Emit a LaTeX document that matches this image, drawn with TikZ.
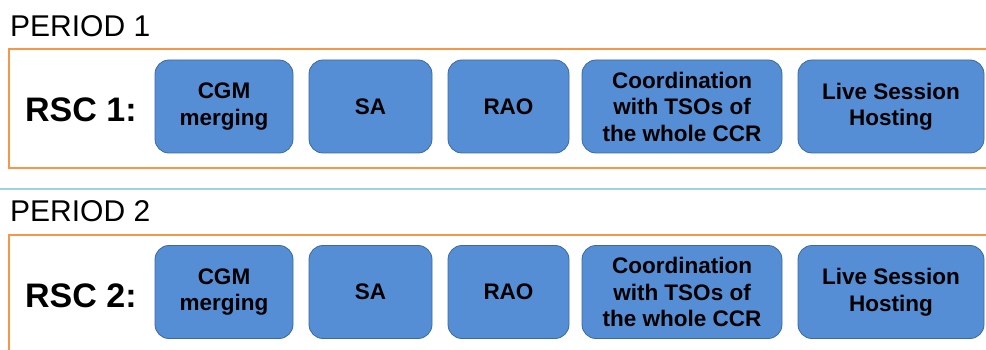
\documentclass[tikz,border=0pt]{standalone}
\usepackage{fontspec}
\setmainfont{Liberation Sans}
\begin{document}
\definecolor{frameorange}{HTML}{F79646}
\definecolor{taskfill}{HTML}{558ED5}
\definecolor{taskline}{HTML}{3A6A9E}
\definecolor{sepblue}{HTML}{9DD3E0}
\begin{tikzpicture}[x=1pt,y=-1pt,
  task/.style={draw=taskline, line width=0.8pt, fill=taskfill, rounded corners=14pt,
    minimum height=93pt, align=center, inner sep=2pt,
    font=\fontsize{22.5}{26.5}\selectfont\bfseries},
  period/.style={anchor=base west, inner sep=0pt, font=\fontsize{30}{32}\selectfont},
  rsc/.style={anchor=base west, inner sep=0pt, font=\fontsize{34}{36}\selectfont\bfseries},
  frame/.style={draw=frameorange, line width=2.6pt},
  sep/.style={draw=sepblue, line width=1.8pt}]
\useasboundingbox (0,0) rectangle (986,350);
\clip (0,0) rectangle (986,350);

% period 1
\node[period] (p1) at (10,37) {PERIOD 1};
\draw[frame] (9,49) rectangle (1000,168);
\node[rsc] (r1) at (25,122) {RSC 1:};
\node[task, minimum width=138pt] (a1) at (224,106.5) {CGM\\merging};
\node[task, minimum width=123pt] (b1) at (370.5,106.5) {SA};
\node[task, minimum width=121pt] (c1) at (508.5,106.5) {RAO};
\node[task, minimum width=200pt] (d1) at (682,106.5) {Coordination\\with TSOs of\\the whole CCR};
\node[task, minimum width=186pt] (e1) at (891,106.5) {Live Session\\Hosting};

% separator
\coordinate (s0) at (0,189);
\coordinate (s1) at (986,189);
\draw[sep] (s0) -- (s1);

% period 2
\node[period] (p2) at (10,222) {PERIOD 2};
\draw[frame] (9,235) rectangle (1000,360);
\node[rsc] (r2) at (25,307) {RSC 2:};
\node[task, minimum width=138pt] (a2) at (224,292) {CGM\\merging};
\node[task, minimum width=123pt] (b2) at (370.5,292) {SA};
\node[task, minimum width=121pt] (c2) at (508.5,292) {RAO};
\node[task, minimum width=200pt] (d2) at (682,292) {Coordination\\with TSOs of\\the whole CCR};
\node[task, minimum width=186pt] (e2) at (891,292) {Live Session\\Hosting};
\end{tikzpicture}
\end{document}
